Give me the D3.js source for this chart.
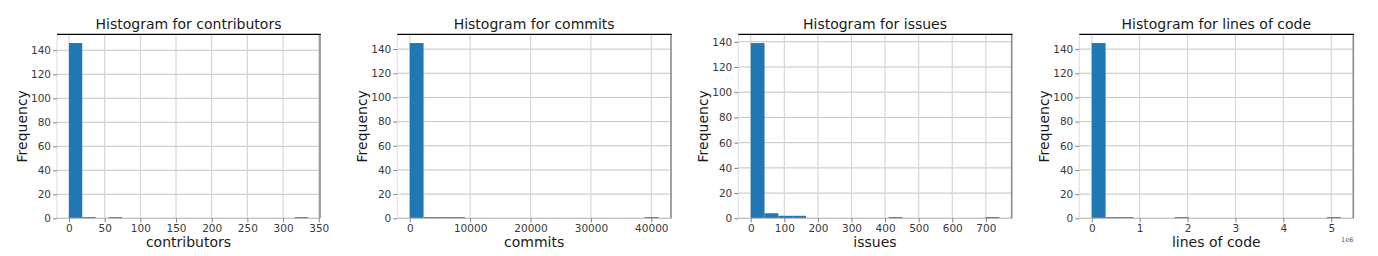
<!DOCTYPE html>
<html>
<head>
<meta charset="utf-8">
<script src="https://cdn.jsdelivr.net/npm/d3@7"></script>
<style>
  html, body { margin: 0; padding: 0; background: #fff; }
  svg { display: block; font-family: "DejaVu Sans", sans-serif; }
</style>
</head>
<body>
<svg id="chart" width="1378" height="256"></svg>
<script>
// ---- data (18 bins per histogram) ----
const variables = ["contributors", "commits", "issues", "lines of code"];

const contributorsRange = [0, 335];
const contributorsCounts = [146, 1, 0, 1, 0, 0, 0, 0, 0, 0, 0, 0, 0, 0, 0, 0, 0, 1];
const contributorsTicks = [0, 50, 100, 150, 200, 250, 300, 350];

const commitsRange = [0, 41200];
const commitsCounts = [145, 1, 1, 1, 0, 0, 0, 0, 0, 0, 0, 0, 0, 0, 0, 0, 0, 1];
const commitsTicks = [0, 10000, 20000, 30000, 40000];

const issuesRange = [0, 740];
const issuesCounts = [139, 4, 2, 2, 0, 0, 0, 0, 0, 0, 1, 0, 0, 0, 0, 0, 0, 1];
const issuesTicks = [0, 100, 200, 300, 400, 500, 600, 700];

const locRange = [0, 5200000];
const locCounts = [145, 1, 1, 0, 0, 0, 1, 0, 0, 0, 0, 0, 0, 0, 0, 0, 0, 1];
const locTicks = [0, 1000000, 2000000, 3000000, 4000000, 5000000];
const locTickLabels = ["0", "1", "2", "3", "4", "5"];

const frequencyTicks = [0, 20, 40, 60, 80, 100, 120, 140];

// ---- layout ----
const panels = [
  { name: variables[0], range: contributorsRange, counts: contributorsCounts, ticks: contributorsTicks, labels: null, left: 57, right: 320 },
  { name: variables[1], range: commitsRange, counts: commitsCounts, ticks: commitsTicks, labels: null, left: 397.3, right: 671 },
  { name: variables[2], range: issuesRange, counts: issuesCounts, ticks: issuesTicks, labels: null, left: 738.3, right: 1011.7 },
  { name: variables[3], range: locRange, counts: locCounts, ticks: locTicks, labels: locTickLabels, left: 1079.3, right: 1353.3, offset: "1e6" }
];
const plotTop = 34.3, plotBottom = 218.3;
const barColor = "#1f77b4";

const svg = d3.select("#chart");

panels.forEach(p => {
  const [lo, hi] = p.range;
  const span = hi - lo;
  const nb = p.counts.length;
  const bw = span / nb;
  const bins = p.counts.map((c, i) => ({ x0: lo + i * bw, x1: lo + (i + 1) * bw, count: c }));

  const x = d3.scaleLinear().domain([lo - 0.05 * span, hi + 0.05 * span]).range([p.left, p.right]);
  const maxC = d3.max(p.counts);
  const y = d3.scaleLinear().domain([0, maxC * 1.05]).range([plotBottom, plotTop]);

  const g = svg.append("g");

  // grid
  g.append("g").selectAll("line").data(frequencyTicks).join("line")
    .attr("x1", p.left).attr("x2", p.right)
    .attr("y1", d => y(d)).attr("y2", d => y(d))
    .attr("stroke", "#bdbdbd").attr("stroke-width", 0.9);
  g.append("g").selectAll("line").data(p.ticks).join("line")
    .attr("x1", d => x(d)).attr("x2", d => x(d))
    .attr("y1", plotTop).attr("y2", plotBottom)
    .attr("stroke", "#d6d6d6").attr("stroke-width", 1.2);

  // bars
  g.append("g").selectAll("rect").data(bins.filter(b => b.count > 0)).join("rect")
    .attr("x", d => x(d.x0))
    .attr("width", d => x(d.x1) - x(d.x0))
    .attr("y", d => y(d.count))
    .attr("height", d => y(0) - y(d.count))
    .attr("fill", barColor);

  // spines
  g.append("line").attr("x1", p.left).attr("x2", p.left).attr("y1", plotTop).attr("y2", plotBottom)
    .attr("stroke", "#dcdcdc").attr("stroke-width", 1);
  g.append("line").attr("x1", p.left).attr("x2", p.right).attr("y1", plotBottom).attr("y2", plotBottom)
    .attr("stroke", "#c0c0c0").attr("stroke-width", 1);
  g.append("line").attr("x1", p.right).attr("x2", p.right).attr("y1", plotTop).attr("y2", plotBottom)
    .attr("stroke", "#8a8a8a").attr("stroke-width", 1.6);
  g.append("line").attr("x1", p.left).attr("x2", p.right + 0.8).attr("y1", plotTop).attr("y2", plotTop)
    .attr("stroke", "#000").attr("stroke-width", 1.2);

  // y axis
  const yAxis = d3.axisLeft(y).tickValues(frequencyTicks).tickSize(4).tickPadding(2).tickFormat(d3.format("d"));
  const ya = g.append("g").attr("transform", `translate(${p.left},0)`).call(yAxis);
  ya.select(".domain").remove();
  ya.selectAll(".tick line").attr("stroke", "#808080");
  ya.selectAll(".tick text").attr("fill", "#3a3a3a").style("font-size", "10.5px").style("font-family", "DejaVu Sans");

  // x axis
  const xAxis = d3.axisBottom(x).tickValues(p.ticks).tickSize(4).tickPadding(2)
    .tickFormat((d, i) => p.labels ? p.labels[i] : String(d));
  const xa = g.append("g").attr("transform", `translate(0,${plotBottom})`).call(xAxis);
  xa.select(".domain").remove();
  xa.selectAll(".tick line").attr("stroke", "#808080");
  xa.selectAll(".tick text").attr("fill", "#3a3a3a").style("font-size", "10.5px").style("font-family", "DejaVu Sans");

  // title
  g.append("text").attr("x", (p.left + p.right) / 2).attr("y", 28.5)
    .attr("text-anchor", "middle").attr("fill", "#1a1a1a").style("font-size", "14px")
    .text("Histogram for " + p.name);
  // x label
  g.append("text").attr("x", (p.left + p.right) / 2).attr("y", 247)
    .attr("text-anchor", "middle").attr("fill", "#1a1a1a").style("font-size", "14px")
    .text(p.name);
  // y label
  g.append("text").attr("transform", `translate(${p.left - 30},${(plotTop + plotBottom) / 2}) rotate(-90)`)
    .attr("text-anchor", "middle").attr("fill", "#1a1a1a").style("font-size", "14px")
    .text("Frequency");
  if (p.offset) {
    g.append("text").attr("x", p.right).attr("y", 242)
      .attr("text-anchor", "end").attr("fill", "#555").style("font-size", "6.5px")
      .text(p.offset);
  }
});
</script>
</body>
</html>
